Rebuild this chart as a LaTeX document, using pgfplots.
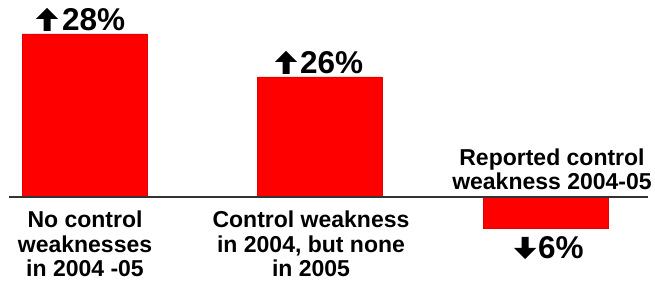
\documentclass[border=0pt]{standalone}
\usepackage{fontspec}
\setmainfont{Liberation Sans}
\usepackage{pgfplots}
\pgfplotsset{compat=1.18}
\begin{document}
\begin{tikzpicture}
\begin{axis}[
  scale only axis, width=655pt, height=283pt,
  xmin=0, xmax=655, ymin=-85.5, ymax=197.5,
  hide axis, clip=false,
  ybar, bar width=125,
]
\path (rel axis cs:0,0) rectangle (rel axis cs:1,1);
\addplot[fill=red, draw=red!90!black, line width=0.5pt] coordinates {(84.5,163.5) (319.5,120.5) (545.5,-30.5)};
\draw[line width=2pt, black!80] (axis cs:9,0) -- (axis cs:648,0);
% arrows
\fill (axis cs:43.5,166.5) -- (axis cs:50.5,166.5) -- (axis cs:50.5,178.5) -- (axis cs:58,178.5) -- (axis cs:47,189.5) -- (axis cs:36,178.5) -- (axis cs:43.5,178.5) -- cycle;
\fill (axis cs:282.5,123.5) -- (axis cs:289.5,123.5) -- (axis cs:289.5,135.5) -- (axis cs:297,135.5) -- (axis cs:286,146.5) -- (axis cs:275,135.5) -- (axis cs:282.5,135.5) -- cycle;
\fill (axis cs:521.5,-39.5) -- (axis cs:528.5,-39.5) -- (axis cs:528.5,-50.5) -- (axis cs:536,-50.5) -- (axis cs:525,-61.5) -- (axis cs:514,-50.5) -- (axis cs:521.5,-50.5) -- cycle;
\begin{scope}[every node/.style={inner sep=0pt, font=\fontsize{31.5}{33}\selectfont\bfseries}]
\node[anchor=base west] at (axis cs:62,166.5) {28\%};
\node[anchor=base west] at (axis cs:300,123.5) {26\%};
\node[anchor=base west] at (axis cs:538,-61.5) {6\%};
\end{scope}
\begin{scope}[every node/.style={inner sep=0pt, anchor=base, font=\fontsize{23}{24.5}\selectfont\bfseries}]
\node at (axis cs:85,-30.5) {No control};
\node at (axis cs:85,-55) {weaknesses};
\node at (axis cs:85,-79.5) {in 2004 -05};
\node at (axis cs:311,-30.5) {Control weakness};
\node at (axis cs:311,-55) {in 2004, but none};
\node at (axis cs:311,-79.5) {in 2005};
\node at (axis cs:552,32) {Reported control};
\node at (axis cs:552,7.5) {weakness 2004-05};
\end{scope}
\end{axis}
\end{tikzpicture}
\end{document}
